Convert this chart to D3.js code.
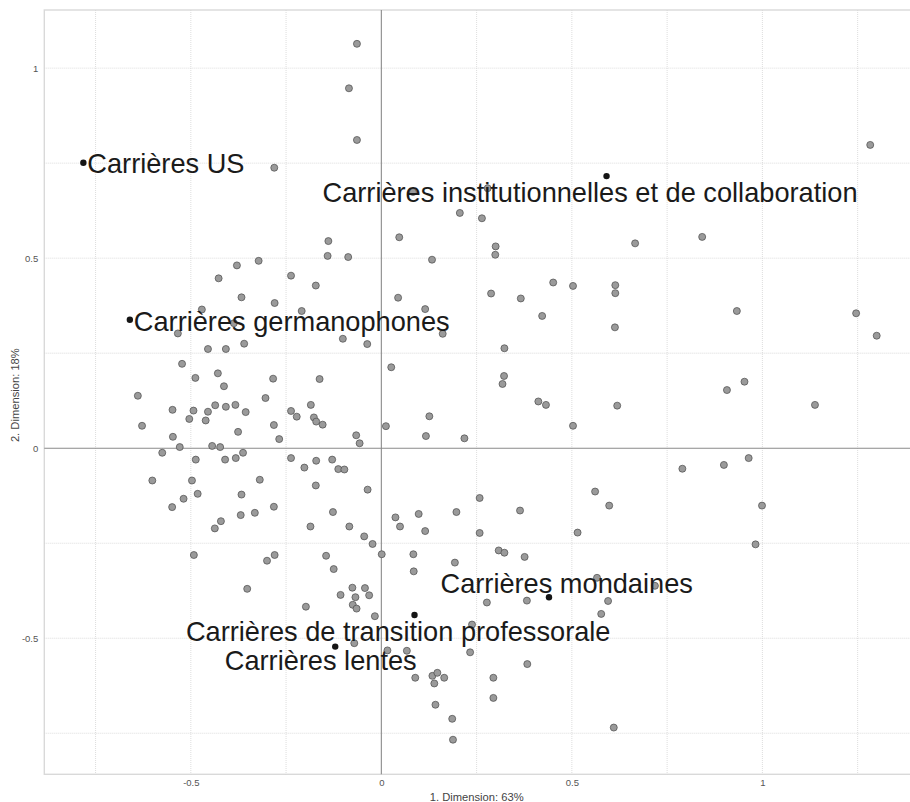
<!DOCTYPE html>
<html>
<head>
<meta charset="utf-8">
<script src="https://cdn.jsdelivr.net/npm/d3@7"></script>
<style>
  body { margin: 0; background: #ffffff; }
  svg { display: block; font-family: "Liberation Sans", Arial, sans-serif; }
</style>
</head>
<body>
<svg id="chart" width="910" height="802"></svg>
<script>
// Individual coordinates on the first two dimensions
const pointX = [
  -0.281, -0.064, -0.085, -0.064, 0.279, 0.206, 0.264, -0.139, 0.047, 0.300,
  0.083, 1.283, 0.666, 0.842, -0.322, -0.379, -0.427, -0.237, -0.367, -0.280,
  -0.471, -0.209, -0.534, -0.360, -0.455, -0.408, -0.523, -0.429, -0.284, -0.488,
  -0.413, -0.639, -0.304, -0.548, -0.493, -0.436, -0.408, -0.383, -0.356, -0.237,
  -0.222, -0.455, -0.628, -0.504, -0.461, -0.282, -0.376, -0.547, -0.268, -0.529,
  -0.444, -0.423, -0.575, -0.363, -0.487, -0.410, -0.382, -0.237, -0.601, -0.497,
  -0.319, -0.482, -0.367, -0.519, -0.387, -0.141, -0.087, 0.133, 0.299, -0.172,
  0.044, 0.115, 0.288, 0.366, 0.451, 0.503, 0.422, -0.101, -0.037, 0.161,
  0.323, 0.026, -0.162, 0.322, 0.318, -0.185, -0.177, -0.171, -0.154, -0.066,
  -0.057, 0.012, 0.126, 0.117, 0.218, 0.412, 0.432, 0.503, -0.171, -0.129,
  -0.202, -0.113, -0.097, -0.172, -0.036, 0.258, 0.561, 0.614, 0.614, 0.613,
  0.933, 1.246, 1.300, 0.619, 0.907, 0.953, 1.138, 0.790, 0.899, 0.964,
  -0.549, -0.437, -0.421, -0.369, -0.332, -0.282, -0.492, -0.300, -0.280, -0.352,
  -0.127, -0.186, -0.084, -0.045, -0.023, 0.037, 0.049, 0.098, 0.115, 0.197,
  0.258, 0.364, 0.515, -0.145, -0.125, 0.001, 0.084, 0.085, 0.193, 0.308,
  0.323, 0.376, -0.076, -0.043, -0.107, -0.068, -0.032, -0.198, -0.075, -0.065,
  -0.017, -0.071, 0.016, 0.067, 0.233, 0.238, 0.277, 0.382, 0.566, 0.577,
  0.383, 0.089, 0.134, 0.147, 0.165, 0.139, 0.294, 0.294, 0.142, 0.186,
  0.188, 0.598, 0.999, 0.982, 0.718, 0.595, 0.610
];
const pointY = [
  0.738, 1.064, 0.947, 0.811, 0.684, 0.619, 0.605, 0.545, 0.555, 0.531,
  0.674, 0.798, 0.539, 0.556, 0.493, 0.481, 0.447, 0.454, 0.397, 0.382,
  0.365, 0.361, 0.302, 0.275, 0.261, 0.261, 0.222, 0.197, 0.183, 0.185,
  0.163, 0.138, 0.132, 0.101, 0.099, 0.113, 0.109, 0.114, 0.095, 0.098,
  0.083, 0.096, 0.059, 0.077, 0.073, 0.061, 0.043, 0.030, 0.024, 0.003,
  0.006, 0.003, -0.012, -0.012, -0.030, -0.030, -0.026, -0.026, -0.085, -0.085,
  -0.083, -0.120, -0.122, -0.133, 0.329, 0.506, 0.503, 0.496, 0.509, 0.428,
  0.396, 0.366, 0.407, 0.394, 0.436, 0.427, 0.348, 0.288, 0.274, 0.301,
  0.263, 0.213, 0.182, 0.190, 0.169, 0.114, 0.081, 0.070, 0.062, 0.034,
  0.013, 0.058, 0.084, 0.032, 0.026, 0.123, 0.114, 0.059, -0.033, -0.030,
  -0.051, -0.055, -0.056, -0.098, -0.109, -0.131, -0.114, 0.429, 0.408, 0.318,
  0.361, 0.355, 0.296, 0.112, 0.153, 0.175, 0.114, -0.054, -0.044, -0.026,
  -0.155, -0.211, -0.192, -0.176, -0.170, -0.154, -0.281, -0.296, -0.281, -0.370,
  -0.168, -0.206, -0.206, -0.232, -0.252, -0.182, -0.206, -0.173, -0.218, -0.168,
  -0.223, -0.164, -0.222, -0.283, -0.318, -0.279, -0.279, -0.324, -0.301, -0.269,
  -0.275, -0.286, -0.367, -0.368, -0.386, -0.392, -0.387, -0.417, -0.412, -0.422,
  -0.442, -0.513, -0.532, -0.533, -0.537, -0.464, -0.406, -0.401, -0.341, -0.436,
  -0.568, -0.604, -0.599, -0.591, -0.604, -0.619, -0.604, -0.657, -0.675, -0.712,
  -0.767, -0.151, -0.151, -0.253, -0.362, -0.402, -0.735
];

// Career types projected as supplementary points
const groupNames = [
  "Carrières US",
  "Carrières germanophones",
  "Carrières institutionnelles et de collaboration",
  "Carrières mondaines",
  "Carrières de transition professorale",
  "Carrières lentes"
];
const groupX = [-0.782, -0.660, 0.591, 0.440, 0.087, -0.121];
const groupY = [0.751, 0.338, 0.716, -0.392, -0.439, -0.522];

// Axis ticks and titles
const xTickValues = [-0.5, 0, 0.5, 1];
const xTickLabels = ["-0.5", "0", "0.5", "1"];
const yTickValues = [-0.5, 0, 0.5, 1];
const yTickLabels = ["-0.5", "0", "0.5", "1"];
const gridValuesX = [-0.75, -0.5, -0.25, 0.25, 0.5, 0.75, 1, 1.25];
const gridValuesY = [-0.75, -0.5, -0.25, 0.25, 0.5, 0.75, 1];
const xTitle = "1. Dimension: 63%";
const yTitle = "2. Dimension: 18%";

// Label placement relative to each career-type point (pixels)
const labelPlacement = [
  { anchor: "start",  dx: 4,     dy: 10.5 },
  { anchor: "start",  dx: 4,     dy: 11 },
  { anchor: "middle", dx: -16.5, dy: 26 },
  { anchor: "middle", dx: 17.7,  dy: -4 },
  { anchor: "middle", dx: -16.3, dy: 25.7 },
  { anchor: "middle", dx: -14.5, dy: 23.3 }
];

const panel = { left: 44.3, right: 911, top: 10, bottom: 774.3 };

const x = d3.scaleLinear().domain([-0.8845, 1.390]).range([panel.left, panel.right]);
const y = d3.scaleLinear().domain([-0.858, 1.153]).range([panel.bottom, panel.top]);

const svg = d3.select("#chart");

// Panel border
svg.append("rect")
  .attr("x", panel.left).attr("y", panel.top)
  .attr("width", panel.right - panel.left).attr("height", panel.bottom - panel.top)
  .attr("fill", "none").attr("stroke", "#d9d9d9").attr("stroke-width", 1.4);

// Dotted grid
const grid = svg.append("g");
grid.selectAll("line.gx").data(gridValuesX).join("line")
  .attr("class", "gx")
  .attr("x1", d => x(d)).attr("x2", d => x(d))
  .attr("y1", panel.top).attr("y2", panel.bottom)
  .attr("stroke", "#d4d4d4").attr("stroke-width", 0.8).attr("stroke-dasharray", "1,1");
grid.selectAll("line.gy").data(gridValuesY).join("line")
  .attr("class", "gy")
  .attr("x1", panel.left).attr("x2", panel.right)
  .attr("y1", d => y(d)).attr("y2", d => y(d))
  .attr("stroke", "#d4d4d4").attr("stroke-width", 0.8).attr("stroke-dasharray", "1,1");

// Origin lines
svg.append("line")
  .attr("x1", x(0)).attr("x2", x(0)).attr("y1", panel.top).attr("y2", panel.bottom)
  .attr("stroke", "#8a8a8a").attr("stroke-width", 1.1);
svg.append("line")
  .attr("x1", panel.left).attr("x2", panel.right).attr("y1", y(0)).attr("y2", y(0))
  .attr("stroke", "#8a8a8a").attr("stroke-width", 1.1);

// Axes (labels only)
const xAxis = d3.axisBottom(x).tickValues(xTickValues)
  .tickFormat((d, i) => xTickLabels[i]).tickSize(0).tickPadding(5);
const gx = svg.append("g").attr("transform", `translate(0,${panel.bottom})`).call(xAxis);
gx.select(".domain").remove();
gx.selectAll("text").attr("font-size", 9.5).attr("fill", "#555").attr("font-family", "Liberation Sans, Arial, sans-serif");

const yAxis = d3.axisLeft(y).tickValues(yTickValues)
  .tickFormat((d, i) => yTickLabels[i]).tickSize(0).tickPadding(6);
const gy = svg.append("g").attr("transform", `translate(${panel.left},0)`).call(yAxis);
gy.select(".domain").remove();
gy.selectAll("text").attr("font-size", 9.5).attr("fill", "#555").attr("font-family", "Liberation Sans, Arial, sans-serif");

// Axis titles
svg.append("text")
  .attr("x", (panel.left + 909) / 2).attr("y", 800.5)
  .attr("text-anchor", "middle").attr("font-size", 11.2).attr("fill", "#444")
  .text(xTitle);
svg.append("text")
  .attr("transform", `translate(18.5,${(panel.top + panel.bottom) / 2 + 3}) rotate(-90)`)
  .attr("text-anchor", "middle").attr("font-size", 11.2).attr("fill", "#444")
  .text(yTitle);

// Individuals
svg.append("g").selectAll("circle").data(d3.range(pointX.length)).join("circle")
  .attr("cx", i => x(pointX[i])).attr("cy", i => y(pointY[i]))
  .attr("r", 3.5)
  .attr("fill", "#9a9a9a").attr("stroke", "#4a4a4a").attr("stroke-width", 0.7);

// Career types
svg.append("g").selectAll("circle").data(d3.range(groupNames.length)).join("circle")
  .attr("cx", i => x(groupX[i])).attr("cy", i => y(groupY[i]))
  .attr("r", 3.2).attr("fill", "#151515");

svg.append("g").selectAll("text").data(d3.range(groupNames.length)).join("text")
  .attr("x", i => x(groupX[i]) + labelPlacement[i].dx)
  .attr("y", i => y(groupY[i]) + labelPlacement[i].dy)
  .attr("text-anchor", i => labelPlacement[i].anchor)
  .attr("font-size", 27.2).attr("fill", "#1a1a1a")
  .text(i => groupNames[i]);
</script>
</body>
</html>
